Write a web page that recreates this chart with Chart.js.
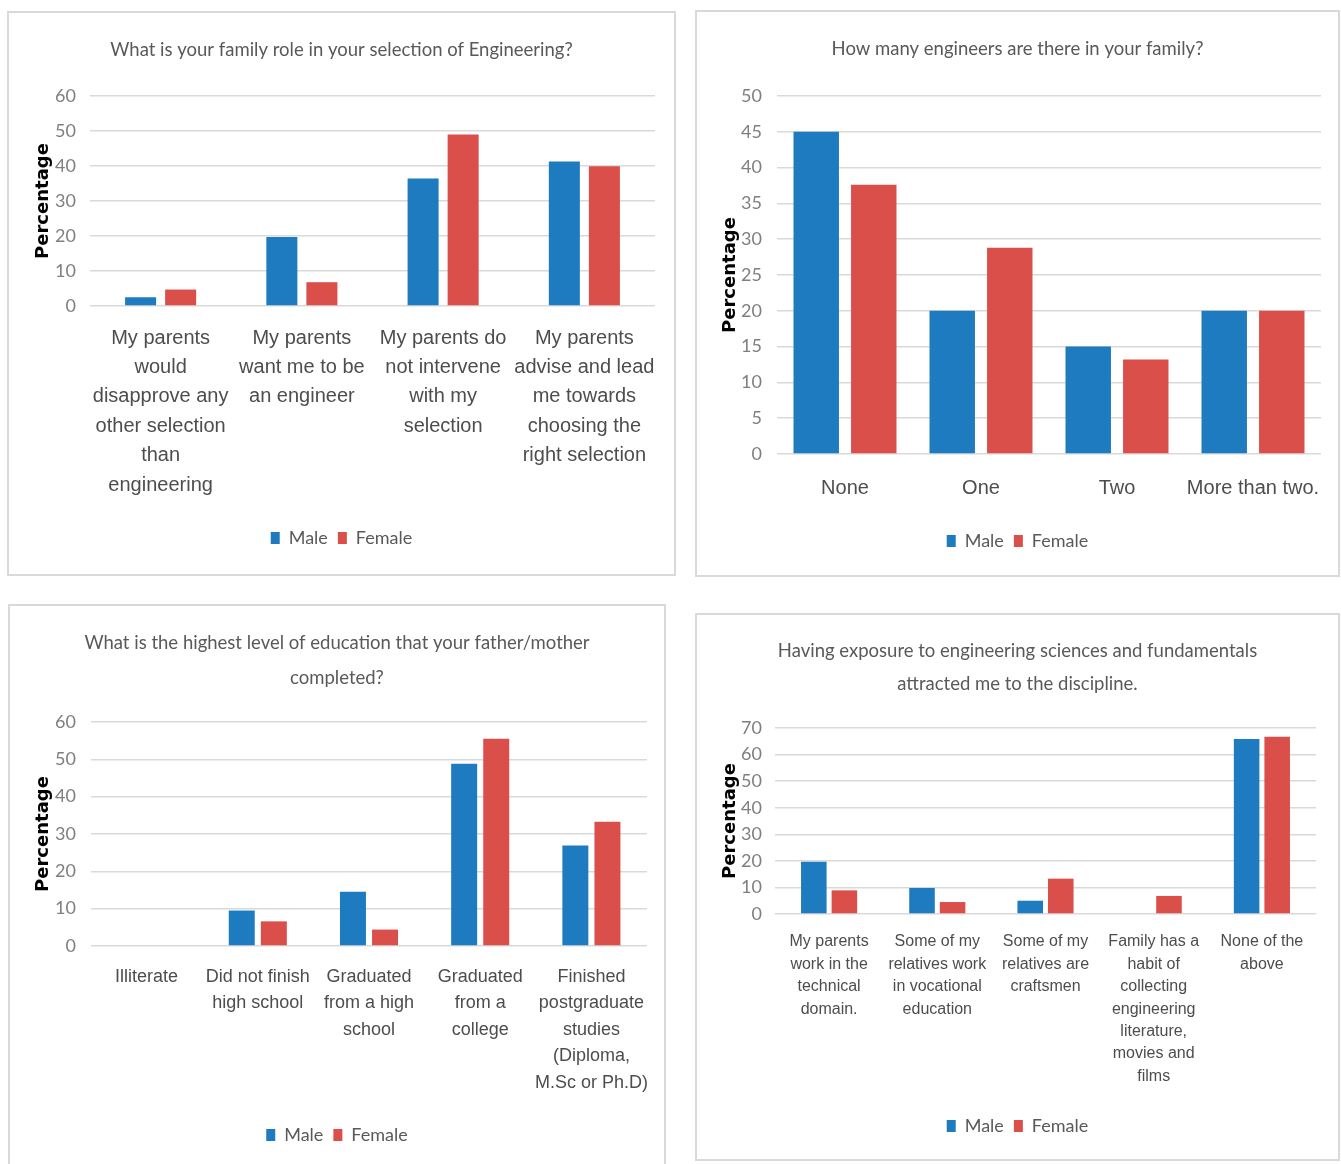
<!DOCTYPE html>
<html>
<head>
<meta charset="utf-8">
<script src="https://cdn.jsdelivr.net/npm/chart.js@4.4.1/dist/chart.umd.min.js"></script>
<style>
  html, body { margin: 0; padding: 0; background: #fff; }
  body { width: 1341px; height: 1164px; position: relative; overflow: hidden; }
  .panel { position: absolute; border: 2px solid #d9d9d9; box-sizing: border-box; background: #fff; }
  .panel canvas { position: absolute; left: 0; top: 0; }
</style>
</head>
<body>
<div class="panel" style="left:7px;top:11px;width:669px;height:565px"><canvas id="roleChart" width="665" height="561"></canvas></div>
<div class="panel" style="left:695px;top:10px;width:645px;height:567px"><canvas id="engineersChart" width="641" height="563"></canvas></div>
<div class="panel" style="left:8px;top:604px;width:658px;height:572px"><canvas id="educationChart" width="654" height="568"></canvas></div>
<div class="panel" style="left:695px;top:613px;width:645px;height:548px"><canvas id="exposureChart" width="641" height="544"></canvas></div>

<script>
// Series shared by all four charts
const seriesNames = ['Male', 'Female'];
const seriesColors = ['#1f7bbf', '#da4f4a'];

// 1. Family role in the choice of engineering
const roleTitle = 'What is your family role in your selection of Engineering?';
const roleCategories = [
  ['My parents', 'would', 'disapprove any', 'other selection', 'than', 'engineering'],
  ['My parents', 'want me to be', 'an engineer'],
  ['My parents do', 'not intervene', 'with my', 'selection'],
  ['My parents', 'advise and lead', 'me towards', 'choosing the', 'right selection']
];
const roleMale = [2.5, 19.7, 36.4, 41.3];
const roleFemale = [4.7, 6.8, 49.0, 39.9];
const roleTicks = [0, 10, 20, 30, 40, 50, 60];

// 2. Engineers in the family
const engineersTitle = 'How many engineers are there in your family?';
const engineersCategories = ['None', 'One', 'Two', 'More than two.'];
const engineersMale = [45, 20, 15, 20];
const engineersFemale = [37.6, 28.8, 13.2, 20];
const engineersTicks = [0, 5, 10, 15, 20, 25, 30, 35, 40, 45, 50];

// 3. Parents' highest level of education
const educationTitle = ['What is the highest level of education that your father/mother', 'completed?'];
const educationCategories = [
  ['Illiterate'],
  ['Did not finish', 'high school'],
  ['Graduated', 'from a high', 'school'],
  ['Graduated', 'from a', 'college'],
  ['Finished', 'postgraduate', 'studies', '(Diploma,', 'M.Sc or Ph.D)']
];
const educationMale = [0, 9.5, 14.5, 48.8, 26.9];
const educationFemale = [0, 6.6, 4.4, 55.5, 33.3];
const educationTicks = [0, 10, 20, 30, 40, 50, 60];

// 4. Exposure to engineering
const exposureTitle = ['Having exposure to engineering sciences and fundamentals', 'attracted me to the discipline.'];
const exposureCategories = [
  ['My parents', 'work in the', 'technical', 'domain.'],
  ['Some of my', 'relatives work', 'in vocational', 'education'],
  ['Some of my', 'relatives are', 'craftsmen'],
  ['Family has a', 'habit of', 'collecting', 'engineering', 'literature,', 'movies and', 'films'],
  ['None of the', 'above']
];
const exposureMale = [19.7, 9.8, 5.0, 0, 65.9];
const exposureFemale = [8.9, 4.5, 13.3, 6.8, 66.7];
const exposureTicks = [0, 10, 20, 30, 40, 50, 60, 70];

const HUMANIST = "Lato, 'Open Sans', sans-serif";
const SANS = "'Liberation Sans', Arial, sans-serif";

function buildChart(id, cfg) {
  const ticks = cfg.ticks;
  return new Chart(document.getElementById(id), {
    type: 'bar',
    data: {
      labels: cfg.labels,
      datasets: [cfg.male, cfg.female].map((values, i) => ({
        label: seriesNames[i],
        data: values,
        backgroundColor: seriesColors[i],
        borderWidth: 0,
        categoryPercentage: cfg.cat,
        barPercentage: cfg.bar
      }))
    },
    options: {
      responsive: false,
      animation: false,
      devicePixelRatio: 1,
      layout: { padding: { left: cfg.side, right: cfg.side, top: 0, bottom: cfg.bottom } },
      plugins: {
        title: {
          display: true,
          text: cfg.title,
          color: '#595959',
          font: { family: HUMANIST, size: 18.5, weight: 'normal', lineHeight: cfg.titleLH },
          padding: { top: cfg.titleTop, bottom: cfg.titleBottom }
        },
        legend: {
          position: 'bottom',
          labels: {
            boxWidth: 9, boxHeight: 12, padding: 10,
            color: '#595959',
            font: { family: HUMANIST, size: 18 }
          }
        },
        tooltip: { enabled: false }
      },
      scales: {
        x: {
          grid: { display: false },
          border: { display: false },
          ticks: {
            color: '#4d4d4d',
            font: { family: SANS, size: cfg.catSize, lineHeight: cfg.catLH },
            padding: cfg.catPad,
            maxRotation: 0,
            autoSkip: false
          },
          afterFit: s => { s.height = cfg.xHeight; }
        },
        y: {
          min: ticks[0],
          max: ticks[ticks.length - 1],
          ticks: {
            stepSize: ticks[1] - ticks[0],
            color: '#7f7f7f',
            font: { family: HUMANIST, size: 18 },
            padding: cfg.tickPad
          },
          grid: { color: '#d9d9d9', lineWidth: 1.5, drawTicks: false },
          border: { display: false },
          title: {
            display: true,
            text: 'Percentage',
            color: '#000',
            font: { family: "'DejaVu Sans', Verdana, sans-serif", size: 18, weight: 'bold' },
            padding: { top: cfg.yTitlePad, bottom: 0 }
          },
          afterFit: s => { s.width = cfg.yWidth; }
        }
      }
    }
  });
}

buildChart('roleChart', {
  labels: roleCategories, male: roleMale, female: roleFemale, ticks: roleTicks,
  title: roleTitle, titleLH: 1.2, titleTop: 25.9, titleBottom: 34.9,
  side: 19, bottom: 17, yWidth: 62, yTitlePad: 4.6, tickPad: 14,
  xHeight: 213, catSize: 20, catLH: 1.47, catPad: 9.3,
  cat: 0.567, bar: 0.775
});

buildChart('engineersChart', {
  labels: engineersCategories, male: engineersMale, female: engineersFemale, ticks: engineersTicks,
  title: engineersTitle, titleLH: 1.2, titleTop: 25.9, titleBottom: 35.9,
  side: 17, bottom: 15, yWidth: 63, yTitlePad: 5.6, tickPad: 15,
  xHeight: 68, catSize: 20, catLH: 1.47, catPad: 11.3,
  cat: 0.846, bar: 0.79
});

buildChart('educationChart', {
  labels: educationCategories, male: educationMale, female: educationFemale, ticks: educationTicks,
  title: educationTitle, titleLH: 1.892, titleTop: 19.5, titleBottom: 26.5,
  side: 17, bottom: 20, yWidth: 64, yTitlePad: 5.6, tickPad: 15,
  xHeight: 170, catSize: 18, catLH: 1.472, catPad: 9.75,
  cat: 0.577, bar: 0.81
});

buildChart('exposureChart', {
  labels: exposureCategories, male: exposureMale, female: exposureFemale, ticks: exposureTicks,
  title: exposureTitle, titleLH: 1.784, titleTop: 19.5, titleBottom: 27.5,
  side: 22, bottom: 14, yWidth: 56, yTitlePad: 0.8, tickPad: 13,
  xHeight: 193, catSize: 16, catLH: 1.4, catPad: 8.8,
  cat: 0.565, bar: 0.836
});
</script>
</body>
</html>
